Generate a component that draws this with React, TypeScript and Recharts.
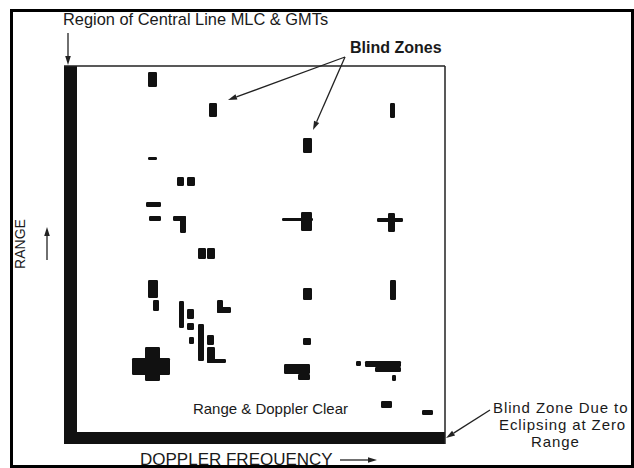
import React from 'react';
import { ComposedChart, XAxis, YAxis, ReferenceArea, ReferenceLine, ReferenceDot } from 'recharts';

// Doppler-frequency bins (x) and range bins (y), measured from the lower-left corner of the map
const DOPPLER_MAX = 381;
const RANGE_MAX = 378;

// [dopplerFrom, dopplerTo, rangeFrom, rangeTo]
const mainlobeClutterZone: number[][] = [[0, 13, 0, 378]];
const eclipsingZone: number[][] = [[0, 381, 0, 12]];

const blindZones: number[][] = [
  [84, 93, 357, 372],
  [145, 153, 327, 341],
  [326, 331, 326, 341],
  [239, 248, 291, 306],
  [84, 93, 284, 287],
  [113, 120, 258, 267],
  [123, 131, 258, 267],
  [82, 97, 237, 242],
  [85, 97, 223, 228],
  [109, 122, 223, 228],
  [116, 122, 211, 228],
  [218, 249, 223, 226],
  [237, 248, 213, 232],
  [313, 339, 222, 226],
  [324, 331, 212, 231],
  [134, 142, 185, 196],
  [143, 151, 185, 196],
  [84, 94, 146, 164],
  [89, 95, 133, 144],
  [115, 120, 116, 143],
  [123, 130, 125, 135],
  [123, 130, 114, 121],
  [153, 159, 131, 144],
  [153, 167, 131, 137],
  [134, 140, 83, 120],
  [125, 130, 100, 107],
  [143, 150, 99, 109],
  [143, 151, 81, 97],
  [143, 162, 81, 85],
  [81, 96, 63, 97],
  [68, 106, 69, 86],
  [239, 248, 144, 156],
  [326, 332, 144, 164],
  [239, 247, 99, 106],
  [220, 246, 70, 80],
  [234, 246, 64, 70],
  [292, 297, 78, 83],
  [301, 337, 77, 83],
  [311, 337, 72, 77],
  [328, 332, 63, 69],
  [317, 328, 36, 43],
  [358, 369, 29, 34],
];

// annotation texts: position in the same doppler / range units
const labelTexts = [
  'Region of Central Line MLC & GMTs',
  'Blind Zones',
  'Range & Doppler Clear',
  'Blind Zone Due to',
  'Eclipsing at Zero',
  'Range',
  'RANGE',
  'DOPPLER FREQUENCY',
];
const labelDoppler = [-1, 286, 284, 429, 435, 467, -39, 76];
const labelRange = [419, 391, 30, 31, 14, -3, 200, -21];
const labelSize = [16.4, 16, 15, 15, 15, 15, 14, 17];
const labelSpacing = [0, 0, 0, 0.9, 0.9, 0.9, 0, 0];
const labelBold = [false, true, false, false, false, false, false, false];
const labelAnchor = ['start', 'start', 'end', 'start', 'start', 'start', 'middle', 'start'];
const labelRotate = [0, 0, 0, 0, 0, 0, -90, 0];

// annotation arrows: [dopplerFrom, rangeFrom, dopplerTo, rangeTo]
const arrows: number[][] = [
  [4, 411, 4, 379],
  [281, 387, 164, 344],
  [281, 387, 249, 314],
  [426, 34, 382, 6],
  [-17, 184, -17, 217],
  [276, -16, 313, -16],
];

const FONT = '"Liberation Sans", Arial, Helvetica, sans-serif';
const INK = '#111';

const ArrowShape = (props: any) => {
  const { x1, y1, x2, y2 } = props;
  const ang = Math.atan2(y2 - y1, x2 - x1);
  const L = 9;
  const W = 2.8;
  const bx = x2 - L * Math.cos(ang);
  const by = y2 - L * Math.sin(ang);
  const px = -Math.sin(ang) * W;
  const py = Math.cos(ang) * W;
  return (
    <g>
      <line x1={x1} y1={y1} x2={bx} y2={by} stroke="#222" strokeWidth={1.3} />
      <polygon points={`${x2},${y2} ${bx + px},${by + py} ${bx - px},${by - py}`} fill="#222" />
    </g>
  );
};

const ZoneShape = (props: any) => {
  const { x, y, width, height } = props;
  return <rect x={x} y={y} width={width} height={height} rx={1.2} ry={1.2} fill={INK} />;
};

const BandShape = (props: any) => {
  const { x, y, width, height } = props;
  return <rect x={x} y={y} width={width} height={height} fill={INK} />;
};

const makeLabelShape = (i: number) => (props: any) => {
  const { cx, cy } = props;
  const rot = labelRotate[i];
  return (
    <text
      x={cx}
      y={cy}
      fontFamily={FONT}
      fontSize={labelSize[i]}
      letterSpacing={labelSpacing[i]}
      fontWeight={labelBold[i] ? 'bold' : 'normal'}
      textAnchor={labelAnchor[i] as any}
      fill="#1a1a1a"
      transform={rot ? `rotate(${rot} ${cx} ${cy})` : undefined}
    >
      {labelTexts[i]}
    </text>
  );
};

export default function App() {
  return (
    <div style={{ position: 'absolute', left: 0, top: 0, width: 634, height: 468, background: '#fff', overflow: 'hidden' }}>
      <ComposedChart width={634} height={468} margin={{ top: 66, right: 189, bottom: 24, left: 64 }} data={[]}>
        <XAxis type="number" dataKey="d" domain={[0, DOPPLER_MAX]} allowDataOverflow hide />
        <YAxis type="number" dataKey="r" domain={[0, RANGE_MAX]} allowDataOverflow hide />
        <ReferenceLine y={RANGE_MAX} stroke="#222" strokeWidth={1.5} />
        <ReferenceLine x={DOPPLER_MAX} stroke="#222" strokeWidth={1.5} />
        {mainlobeClutterZone.map((z, i) => (
          <ReferenceArea key={'m' + i} x1={z[0]} x2={z[1]} y1={z[2]} y2={z[3]} fillOpacity={1} shape={BandShape} ifOverflow="visible" />
        ))}
        {eclipsingZone.map((z, i) => (
          <ReferenceArea key={'e' + i} x1={z[0]} x2={z[1]} y1={z[2]} y2={z[3]} fillOpacity={1} shape={BandShape} ifOverflow="visible" />
        ))}
        {blindZones.map((z, i) => (
          <ReferenceArea key={'b' + i} x1={z[0]} x2={z[1]} y1={z[2]} y2={z[3]} fillOpacity={1} shape={ZoneShape} ifOverflow="visible" />
        ))}
        {arrows.map((a, i) => (
          <ReferenceLine
            key={'a' + i}
            segment={[{ x: a[0], y: a[1] }, { x: a[2], y: a[3] }]}
            ifOverflow="visible"
            shape={ArrowShape}
          />
        ))}
        {labelTexts.map((t, i) => (
          <ReferenceDot
            key={'l' + i}
            x={labelDoppler[i]}
            y={labelRange[i]}
            r={0}
            ifOverflow="visible"
            shape={makeLabelShape(i)}
          />
        ))}
      </ComposedChart>
      <div
        style={{
          position: 'absolute',
          left: 10,
          top: 9,
          width: 624,
          height: 459,
          border: '3px solid #000',
          boxSizing: 'border-box',
          pointerEvents: 'none',
        }}
      />
    </div>
  );
}
